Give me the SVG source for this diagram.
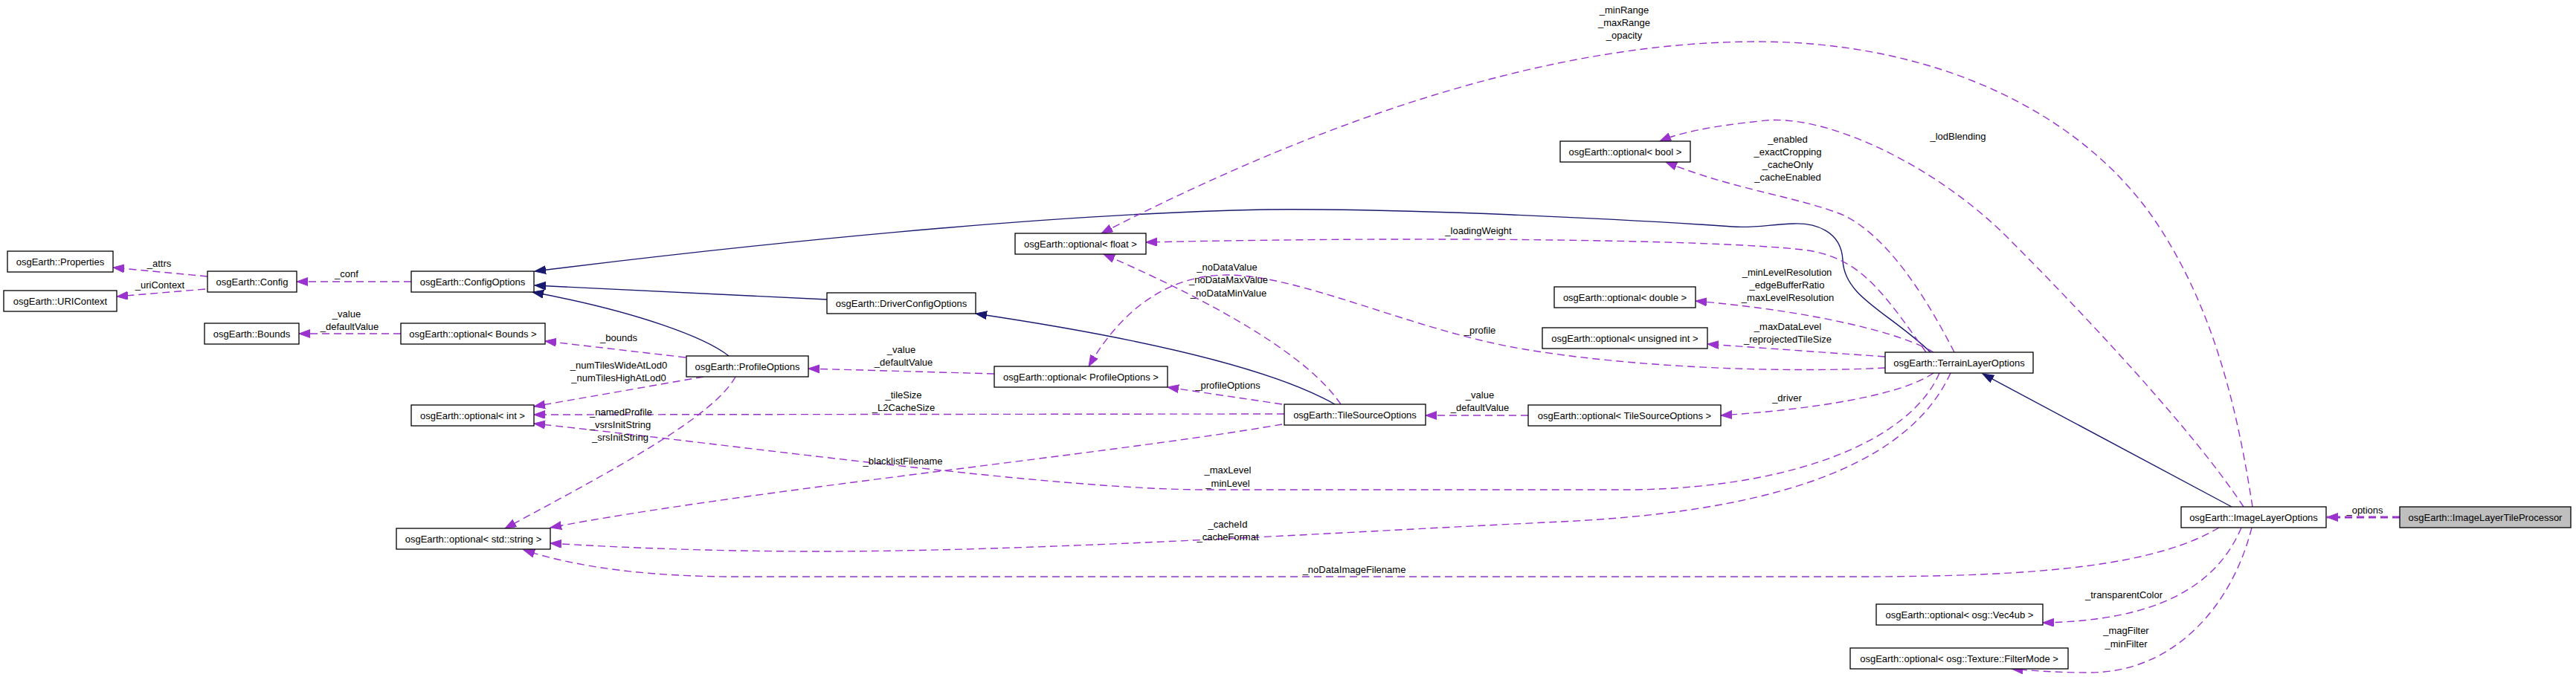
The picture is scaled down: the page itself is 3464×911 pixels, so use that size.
<svg xmlns="http://www.w3.org/2000/svg" width="3464" height="911" viewBox="0 0 3464 911">
<style>
.n rect{fill:#fff;stroke:#000;stroke-width:1.3}
.n text,.l{font-family:"Liberation Sans",Arial,sans-serif;font-size:13px;fill:#000;text-anchor:middle}
.d{fill:none;stroke:#9a32cd;stroke-width:1.4;stroke-dasharray:10,6}
.s{fill:none;stroke:#191970;stroke-width:1.4}
</style>
<defs>
<marker id="ap" markerWidth="16" markerHeight="12" refX="15" refY="5.5" orient="auto" markerUnits="userSpaceOnUse"><path d="M0,0 L15,5.5 L0,11 z" fill="#9a32cd" stroke="#9a32cd" stroke-width="1"/></marker>
<marker id="ab" markerWidth="16" markerHeight="12" refX="15" refY="5.5" orient="auto" markerUnits="userSpaceOnUse"><path d="M0,0 L15,5.5 L0,11 z" fill="#191970" stroke="#191970" stroke-width="1"/></marker>
</defs>
<rect width="3464" height="911" fill="#fff"/>
<g id="connectors">
<path class="d" style="stroke-width:3" d="M3227,696 L3129,696" marker-end="url(#ap)"/>
<path class="s" d="M3001,682 L2666,503" marker-end="url(#ab)"/>
<path class="s" d="M2596,474 C2540,420 2480,400 2478,350 C2476,310 2440,300 2412,301 C2380,302 2360,307 2330,305 C2200,296 1900,280 1700,282 C1400,288 1000,330 719,365" marker-end="url(#ab)"/>
<path class="s" d="M1112,403 L719,384" marker-end="url(#ab)"/>
<path class="s" d="M980,479 C950,455 860,420 716,393" marker-end="url(#ab)"/>
<path class="s" d="M1795,544 C1700,490 1500,450 1312,422" marker-end="url(#ab)"/>
<path class="d" d="M553,379 L399,379" marker-end="url(#ap)"/>
<path class="d" d="M279,372 L152,360" marker-end="url(#ap)"/>
<path class="d" d="M276,389 L157,399" marker-end="url(#ap)"/>
<path class="d" d="M539,449 L402,449" marker-end="url(#ap)"/>
<path class="d" d="M922,481 L733,459" marker-end="url(#ap)"/>
<path class="d" d="M946,507 L718,547" marker-end="url(#ap)"/>
<path class="d" d="M1727,557 L718,558" marker-end="url(#ap)"/>
<path class="d" d="M2608,502 C2570,590 2420,655 2200,659 L1622,659 C1420,659 1000,600 718,570" marker-end="url(#ap)"/>
<path class="d" d="M989,507 C960,560 830,630 679,711" marker-end="url(#ap)"/>
<path class="d" d="M1724,571 C1500,610 1000,660 740,710" marker-end="url(#ap)"/>
<path class="d" d="M2623,502 C2560,640 2350,690 2100,702 C1800,716 1400,742 1100,742 C950,742 820,736 740,731" marker-end="url(#ap)"/>
<path class="d" d="M2984,710 C2900,760 2750,776 2500,776 L990,776 C880,776 780,765 704,740" marker-end="url(#ap)"/>
<path class="d" d="M3014,710 C2980,790 2900,835 2747,838" marker-end="url(#ap)"/>
<path class="d" d="M3028,710 C3000,820 2920,905 2810,905 C2760,905 2730,902 2705,900" marker-end="url(#ap)"/>
<path class="d" d="M3017,682 C2950,580 2800,420 2700,320 C2600,220 2450,150 2366,163 C2300,170 2260,178 2232,190" marker-end="url(#ap)"/>
<path class="d" d="M3029,682 C3010,560 2980,420 2900,300 C2800,150 2600,56 2363,56 C2100,56 1800,150 1481,314" marker-end="url(#ap)"/>
<path class="d" d="M2590,474 C2530,390 2500,345 2424,336 C2300,322 1900,318 1541,326" marker-end="url(#ap)"/>
<path class="d" d="M1803,544 C1760,480 1640,410 1484,342" marker-end="url(#ap)"/>
<path class="d" d="M1724,544 L1570,521" marker-end="url(#ap)"/>
<path class="d" d="M1337,503 L1087,496" marker-end="url(#ap)"/>
<path class="d" d="M2535,495 C2400,502 2200,495 2050,470 C1900,445 1750,370 1650,370 C1560,370 1500,430 1464,493" marker-end="url(#ap)"/>
<path class="d" d="M2628,474 C2590,400 2540,320 2480,290 C2420,265 2330,255 2240,218" marker-end="url(#ap)"/>
<path class="d" d="M2600,474 C2560,450 2450,420 2280,405" marker-end="url(#ap)"/>
<path class="d" d="M2535,480 L2296,463" marker-end="url(#ap)"/>
<path class="d" d="M2600,502 C2560,530 2450,550 2314,559" marker-end="url(#ap)"/>
<path class="d" d="M2055,559 L1917,559" marker-end="url(#ap)"/>
<text class="l" x="3180" y="691">_options</text>
<text class="l" x="466" y="373">_conf</text>
<text class="l" x="214" y="359">_attrs</text>
<text class="l" x="215" y="388">_uriContext</text>
<text class="l" x="466" y="427">_value</text>
<text class="l" x="470" y="444">_defaultValue</text>
<text class="l" x="832" y="459">_bounds</text>
<text class="l" x="832" y="496">_numTilesWideAtLod0</text>
<text class="l" x="832" y="513">_numTilesHighAtLod0</text>
<text class="l" x="835" y="559">_namedProfile</text>
<text class="l" x="834" y="576">_vsrsInitString</text>
<text class="l" x="834" y="593">_srsInitString</text>
<text class="l" x="1212" y="475">_value</text>
<text class="l" x="1215" y="492">_defaultValue</text>
<text class="l" x="1215" y="536">_tileSize</text>
<text class="l" x="1215" y="553">_L2CacheSize</text>
<text class="l" x="1214" y="625">_blacklistFilename</text>
<text class="l" x="1651" y="523">_profileOptions</text>
<text class="l" x="1650" y="364">_noDataValue</text>
<text class="l" x="1652" y="381">_noDataMaxValue</text>
<text class="l" x="1652" y="399">_noDataMinValue</text>
<text class="l" x="1651" y="637">_maxLevel</text>
<text class="l" x="1651" y="655">_minLevel</text>
<text class="l" x="1651" y="710">_cacheId</text>
<text class="l" x="1651" y="727">_cacheFormat</text>
<text class="l" x="1821" y="771">_noDataImageFilename</text>
<text class="l" x="2184" y="18">_minRange</text>
<text class="l" x="2184" y="35">_maxRange</text>
<text class="l" x="2184" y="52">_opacity</text>
<text class="l" x="2633" y="188">_lodBlending</text>
<text class="l" x="2404" y="192">_enabled</text>
<text class="l" x="2404" y="209">_exactCropping</text>
<text class="l" x="2404" y="226">_cacheOnly</text>
<text class="l" x="2404" y="243">_cacheEnabled</text>
<text class="l" x="1988" y="315">_loadingWeight</text>
<text class="l" x="2403" y="371">_minLevelResolution</text>
<text class="l" x="2403" y="388">_edgeBufferRatio</text>
<text class="l" x="2404" y="405">_maxLevelResolution</text>
<text class="l" x="2404" y="444">_maxDataLevel</text>
<text class="l" x="2404" y="461">_reprojectedTileSize</text>
<text class="l" x="1990" y="449">_profile</text>
<text class="l" x="1990" y="536">_value</text>
<text class="l" x="1990" y="553">_defaultValue</text>
<text class="l" x="2403" y="540">_driver</text>
<text class="l" x="2856" y="805">_transparentColor</text>
<text class="l" x="2859" y="853">_magFilter</text>
<text class="l" x="2859" y="871">_minFilter</text>
</g>
<g id="n_ImageLayerTileProcessor" class="n"><rect x="3227" y="682" width="230" height="28" style="fill:#bfbfbf"/><text x="3342" y="700.5">osgEarth::ImageLayerTileProcessor</text></g>
<g id="n_ImageLayerOptions" class="n"><rect x="2933" y="682" width="195" height="28"/><text x="3030.5" y="700.5">osgEarth::ImageLayerOptions</text></g>
<g id="n_TerrainLayerOptions" class="n"><rect x="2535" y="474" width="199" height="28"/><text x="2634.5" y="492.5">osgEarth::TerrainLayerOptions</text></g>
<g id="n_ConfigOptions" class="n"><rect x="553" y="365" width="165" height="28"/><text x="635.5" y="383.5">osgEarth::ConfigOptions</text></g>
<g id="n_Config" class="n"><rect x="279" y="365" width="120" height="28"/><text x="339" y="383.5">osgEarth::Config</text></g>
<g id="n_Properties" class="n"><rect x="10" y="338" width="142" height="28"/><text x="81" y="356.5">osgEarth::Properties</text></g>
<g id="n_URIContext" class="n"><rect x="5" y="391" width="152" height="28"/><text x="81" y="409.5">osgEarth::URIContext</text></g>
<g id="n_optFloat" class="n"><rect x="1365" y="314" width="176" height="28"/><text x="1453" y="332.5">osgEarth::optional&lt; float &gt;</text></g>
<g id="n_optBool" class="n"><rect x="2098" y="190" width="175" height="28"/><text x="2185.5" y="208.5">osgEarth::optional&lt; bool &gt;</text></g>
<g id="n_optDouble" class="n"><rect x="2090" y="386" width="190" height="28"/><text x="2185" y="404.5">osgEarth::optional&lt; double &gt;</text></g>
<g id="n_optUnsigned" class="n"><rect x="2074" y="441" width="222" height="28"/><text x="2185" y="459.5">osgEarth::optional&lt; unsigned int &gt;</text></g>
<g id="n_optTileSourceOptions" class="n"><rect x="2055" y="545" width="259" height="28"/><text x="2184.5" y="563.5">osgEarth::optional&lt; TileSourceOptions &gt;</text></g>
<g id="n_TileSourceOptions" class="n"><rect x="1727" y="544" width="190" height="28"/><text x="1822" y="562.5">osgEarth::TileSourceOptions</text></g>
<g id="n_DriverConfigOptions" class="n"><rect x="1112" y="394" width="200" height="28"/><text x="1212" y="412.5">osgEarth::DriverConfigOptions</text></g>
<g id="n_optProfileOptions" class="n"><rect x="1337" y="493" width="233" height="28"/><text x="1453.5" y="511.5">osgEarth::optional&lt; ProfileOptions &gt;</text></g>
<g id="n_ProfileOptions" class="n"><rect x="923" y="479" width="164" height="28"/><text x="1005" y="497.5">osgEarth::ProfileOptions</text></g>
<g id="n_optBounds" class="n"><rect x="539" y="435" width="194" height="28"/><text x="636" y="453.5">osgEarth::optional&lt; Bounds &gt;</text></g>
<g id="n_Bounds" class="n"><rect x="275" y="435" width="127" height="28"/><text x="338.5" y="453.5">osgEarth::Bounds</text></g>
<g id="n_optInt" class="n"><rect x="553" y="545" width="165" height="28"/><text x="635.5" y="563.5">osgEarth::optional&lt; int &gt;</text></g>
<g id="n_optString" class="n"><rect x="533" y="711" width="207" height="28"/><text x="636.5" y="729.5">osgEarth::optional&lt; std::string &gt;</text></g>
<g id="n_optVec4ub" class="n"><rect x="2523" y="813" width="224" height="28"/><text x="2635" y="831.5">osgEarth::optional&lt; osg::Vec4ub &gt;</text></g>
<g id="n_optFilterMode" class="n"><rect x="2488" y="872" width="293" height="28"/><text x="2634.5" y="890.5">osgEarth::optional&lt; osg::Texture::FilterMode &gt;</text></g>
</svg>
